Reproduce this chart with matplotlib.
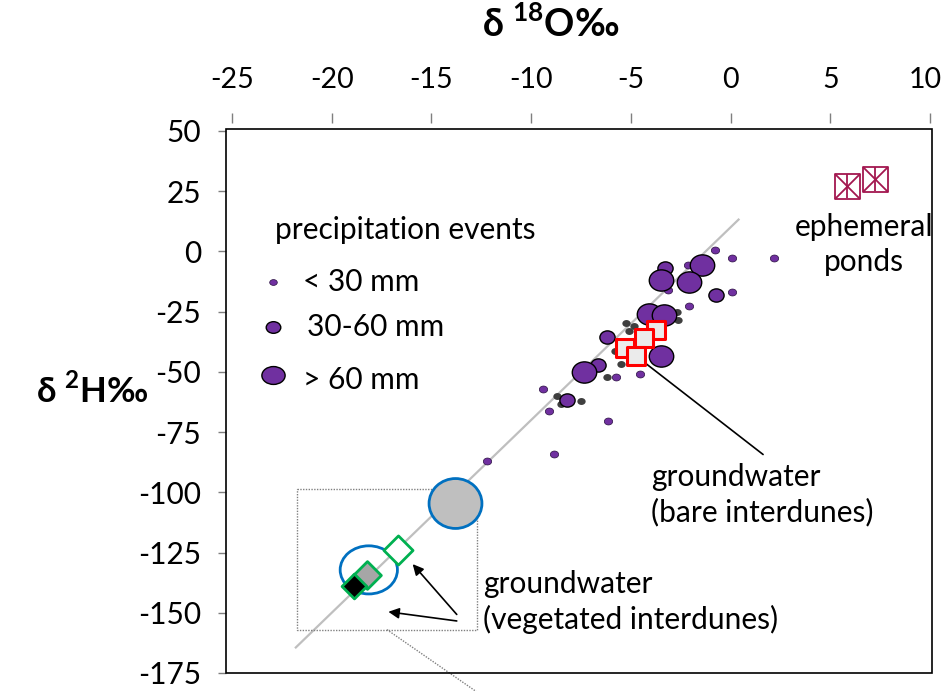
import matplotlib
matplotlib.use("Agg")
import matplotlib.pyplot as plt
from matplotlib.path import Path
from matplotlib.transforms import Affine2D, ScaledTranslation
from matplotlib.patches import Rectangle

plt.rcParams["font.family"] = ["Lato", "DejaVu Sans"]
plt.rcParams["mathtext.fontset"] = "custom"
plt.rcParams["mathtext.rm"] = "Lato"
plt.rcParams["mathtext.bf"] = "Lato:bold"
plt.rcParams["axes.unicode_minus"] = False

# precipitation events, split by event size (d18O, d2H in permil)
large_x = [-1.43, -3.49, -2.08, -4.09, -3.34, -3.49, -7.35]
large_y = [-5.8, -12.0, -12.8, -26.0, -26.4, -43.4, -50.0]
medium_x = [-3.28, -0.73, -6.19, -6.64, -8.2]
medium_y = [-7.0, -18.2, -35.5, -47.1, -61.6]
small_x = [-0.78, 0.08, 2.18, -2.13, -3.13, 0.08, -2.08, -4.54, -5.74,
           -9.4, -9.1, -6.14, -8.85, -12.21]
small_y = [0.4, -2.9, -2.9, -5.8, -16.1, -16.9, -22.7, -50.8, -52.1,
           -57.0, -66.1, -70.2, -84.3, -87.2]
other_x = [-5.24, -2.68, -2.63, -5.79, -5.49, -6.19, -5.09, -8.7, -8.5, -7.5, -4.84]
other_y = [-29.8, -25.2, -28.5, -41.3, -46.7, -52.1, -33.0, -59.9, -63.2, -62.0, -31.0]

# meteoric water line end points
mwl_x = [-21.8, 0.4]
mwl_y = [-164.4, 13.2]

# groundwater, bare interdunes
bare_x = [-3.74, -5.29, -4.34, -4.74]
bare_y = [-32.6, -40.1, -36.0, -43.4]

# ephemeral ponds
pond_x = [5.86, 7.26]
pond_y = [27.0, 30.0]

# groundwater, vegetated interdunes
veg_range_x = [-13.82, -18.14]
veg_range_y = [-104.5, -132.2]
veg_open_x, veg_open_y = [-16.69], [-124.1]
veg_gray_x, veg_gray_y = [-18.25], [-134.2]
veg_black_x, veg_black_y = [-18.88], [-139.0]

# zoom frame around the vegetated interdunes samples
zoom_x = [-21.74, -12.71, -12.71, -21.74, -21.74]
zoom_y = [-98.8, -98.8, -157.0, -157.0, -98.8]
lead_x = [-17.23, -12.7]
lead_y = [-157.0, -183.0]

x_ticks = [-25, -20, -15, -10, -5, 0, 5, 10]
y_ticks = [50, 25, 0, -25, -50, -75, -100, -125, -150, -175]

PURPLE = "#7030A0"
FS = 21.5


def oval(stretch):
    # circle marker, a bit wider than tall
    return Path.unit_circle().transformed(Affine2D().scale(stretch, 1.0))


fig = plt.figure(figsize=(9.42, 6.91), dpi=100)
ax = fig.add_axes([226 / 942, 1 - 673 / 691, 706 / 942, 544 / 691])
ax.set_xlim(-25.3, 10.1)
ax.set_ylim(-175, 50.8)

ax.plot(mwl_x, mwl_y, color="#BFBFBF", lw=1.6, zorder=1)

ax.scatter(other_x, other_y, s=36, marker=oval(1.2), color="#3F3F3F", lw=0, zorder=2)
ax.scatter(small_x, small_y, s=36, marker=oval(1.2), color=PURPLE, ec="#2a1040", lw=0.5, zorder=3)
ax.scatter(medium_x, medium_y, s=120, marker=oval(1.15), color=PURPLE, ec="black", lw=1.0, zorder=3)
ax.scatter(large_x, large_y, s=310, marker=oval(1.15), color=PURPLE, ec="black", lw=1.0, zorder=3)

ax.scatter(bare_x, bare_y, s=150, marker="s", color="#EBEBEB", ec="#FF0000", lw=2.2, zorder=4)

ax.scatter(pond_x, pond_y, s=320, marker="s", facecolor="none", ec="#A3174F", lw=1.3, zorder=4)
ax.scatter(pond_x, pond_y, s=320, marker="x", color="#A3174F", lw=1.3, zorder=4)
ax.scatter(pond_x, pond_y, s=320, marker="|", color="#A3174F", lw=1.3, zorder=4)

ax.scatter(veg_range_x[:1], veg_range_y[:1], s=1450, marker=oval(1.06),
           color="#BFBFBF", ec="#0070C0", lw=2.0, zorder=3)
ax.scatter(veg_range_x[1:], veg_range_y[1:], s=1700, marker=oval(1.19),
           facecolor="none", ec="#0070C0", lw=2.0, zorder=3)
ax.scatter(veg_open_x, veg_open_y, s=220, marker="D", color="white", ec="#00B050", lw=2.0, zorder=4)
ax.scatter(veg_gray_x, veg_gray_y, s=200, marker="D", color="#A6A6A6", ec="#00B050", lw=2.0, zorder=4)
ax.scatter(veg_black_x, veg_black_y, s=160, marker="D", color="black", ec="#00B050", lw=2.0, zorder=5)

ax.plot(zoom_x, zoom_y, color="#808080", lw=1.0, ls=(0, (1, 1)), zorder=1)
ax.plot(lead_x, lead_y, color="#808080", lw=1.0, ls=(0, (1, 1)), zorder=1, clip_on=False)

# legend for event size
ax.text(-22.84, 8.7, "precipitation events", fontsize=FS, va="center")
ax.scatter([-22.96], [-12.7], s=30, marker=oval(1.3), color=PURPLE, ec="#2a1040", lw=0.5)
ax.scatter([-22.96], [-31.5], s=110, marker=oval(1.25), color=PURPLE, ec="black", lw=1.0)
ax.scatter([-22.96], [-51.5], s=280, marker=oval(1.3), color=PURPLE, ec="black", lw=1.0)
ax.text(-21.44, -12.8, "< 30 mm", fontsize=FS, va="center")
ax.text(-21.25, -31.4, "30-60 mm", fontsize=FS, va="center")
ax.text(-21.44, -53.3, "> 60 mm", fontsize=FS, va="center")

# labels and arrows
ax.text(6.69, 2.85, "ephemeral\nponds", fontsize=FS, ha="center", va="center", linespacing=1.3)
ax.text(-3.99, -101.0, "groundwater\n(bare interdunes)", fontsize=FS, va="center", linespacing=1.3)
ax.text(-12.41, -145.6, "groundwater\n(vegetated interdunes)", fontsize=FS, va="center", linespacing=1.3)

arrow = dict(arrowstyle="-|>", color="black", lw=1.2, mutation_scale=16, shrinkA=0, shrinkB=0)
ax.annotate("", xy=(-4.94, -42.1), xytext=(1.63, -84.3), arrowprops=arrow)
ax.annotate("", xy=(-15.94, -129.8), xytext=(-13.73, -150.7), arrowprops=arrow)
ax.annotate("", xy=(-17.16, -149.6), xytext=(-13.73, -153.4), arrowprops=arrow)

# axes: ticks on top and left, frame drawn separately
for side in ["top", "bottom", "left", "right"]:
    ax.spines[side].set_visible(False)
ax.spines["top"].set_position(("outward", 4))
ax.add_patch(Rectangle((0, 0), 1, 1, transform=ax.transAxes, fill=False,
                       ec="black", lw=1.2, clip_on=False, zorder=6))
ax.xaxis.tick_top()
ax.set_xticks(x_ticks)
ax.set_yticks(y_ticks)
ax.tick_params(axis="x", direction="out", length=7, width=1, color="#7F7F7F",
               labelsize=20.5, pad=15)
ax.tick_params(axis="y", direction="out", length=6, width=1, color="#7F7F7F",
               labelsize=FS, pad=12)

# keep the last top label inside the figure
last = ax.xaxis.get_major_ticks()[-1].label2
last.set_transform(last.get_transform() + ScaledTranslation(-5 / 100, 0, fig.dpi_scale_trans))

ax.set_xlabel(r"δ $^{\mathbf{18}}$O‰", fontsize=27, fontweight="bold")
ax.xaxis.set_label_position("top")
ax.xaxis.set_label_coords(0.46, 1.169)
ax.set_ylabel(r"δ $^{\mathbf{2}}$H‰", fontsize=25, fontweight="bold", rotation=0,
              va="center", ha="center")
ax.yaxis.set_label_coords(-0.19, 0.52)

fig.savefig("out.png", dpi=100)
